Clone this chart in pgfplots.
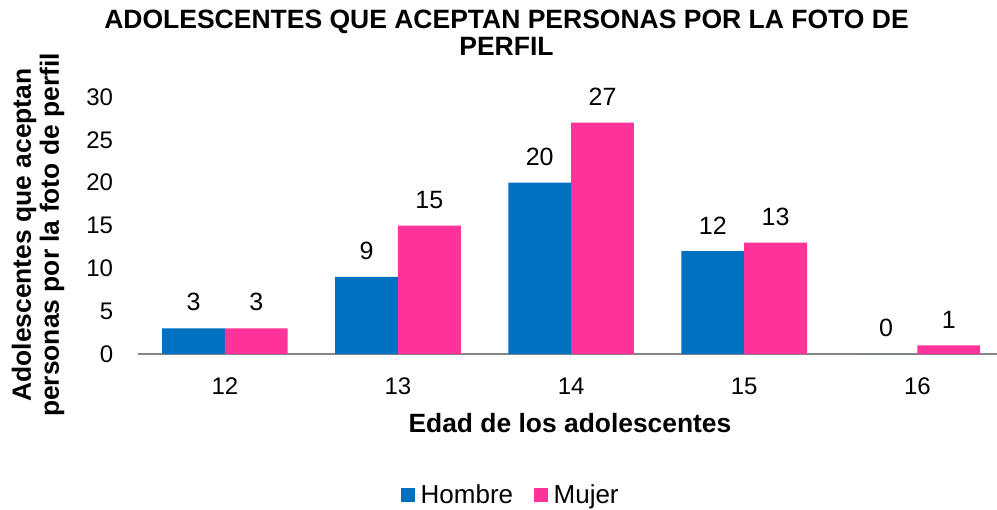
\documentclass[border=0pt]{standalone}
\usepackage{pgfplots}
\pgfplotsset{compat=1.18}
\usepackage{fontspec}
\setmainfont{Liberation Sans}
\definecolor{hombre}{HTML}{0070C0}
\definecolor{mujer}{HTML}{FF3399}
\definecolor{axisgray}{RGB}{134,134,134}
\newcommand{\tickfont}{\fontsize{24bp}{28bp}\selectfont}
\newcommand{\datafont}{\fontsize{25bp}{28bp}\selectfont}
\newcommand{\legfont}{\fontsize{26bp}{28bp}\selectfont}
\newcommand{\labfont}{\fontsize{26.4bp}{28bp}\selectfont\bfseries}
\begin{document}
\begin{tikzpicture}
\path[use as bounding box] (-138.3bp,-156bp) rectangle (858.7bp,354bp);
\begin{axis}[
  at={(0,0)}, anchor=south west,
  scale only axis, width=858.7bp, height=257bp,
  xmin=11.5, xmax=16.46, ymin=0, ymax=30,
  ybar=0pt, bar width=62.8bp,
  xtick={12,13,14,15,16}, ytick={0,5,...,30},
  axis x line*=bottom, axis y line*=left,
  axis line style={-},
  x axis line style={draw=axisgray, line width=1.2bp},
  y axis line style={draw=none},
  major tick length=0pt,
  /pgf/number format/assume math mode=true,
  tick label style={font=\tickfont},
  xticklabel style={inner sep=0pt, anchor=north, yshift=-24bp},
  yticklabel style={inner sep=0pt, anchor=east, xshift=-25bp},
  nodes near coords,
  every node near coord/.append style={font=\datafont, inner sep=0pt, anchor=south, yshift=17bp, color=black},
  xlabel={Edad de los adolescentes},
  ylabel={Adolescentes que aceptan\\personas por la foto de perfil},
  every axis x label/.style={at={(axis description cs:0.5027,-0.3035)}, anchor=base, font=\labfont, inner sep=0pt},
  every axis y label/.style={at={(axis description cs:-0.1168,0.463)}, anchor=center, rotate=90, align=center, font=\labfont, inner sep=0pt},
  legend columns=2,
  legend image code/.code={\fill[#1] (0bp,-7bp) rectangle (14bp,7bp); \path (0bp,0bp) -- (19.5bp,0bp);},
  legend style={draw=none, fill=none, inner sep=0pt, at={(axis description cs:0.3059,-0.5486)}, anchor=west, font=\legfont,
    nodes={inner sep=0pt}, /tikz/every even column/.append style={column sep=21bp}},
]
\addplot[fill=hombre, draw=none] coordinates {(12,3) (13,9) (14,20) (15,12) (16,0)};
\addplot[fill=mujer, draw=none] coordinates {(12,3) (13,15) (14,27) (15,13) (16,1)};
\legend{Hombre, Mujer}
\end{axis}
\node[anchor=base, font=\fontsize{26.5bp}{28bp}\selectfont\bfseries, inner sep=0pt] at (368.2bp,325.7bp) {ADOLESCENTES QUE ACEPTAN PERSONAS POR LA FOTO DE};
\node[anchor=base, font=\fontsize{26.5bp}{28bp}\selectfont\bfseries, inner sep=0pt] at (368.2bp,298bp) {PERFIL};
\end{tikzpicture}
\end{document}
